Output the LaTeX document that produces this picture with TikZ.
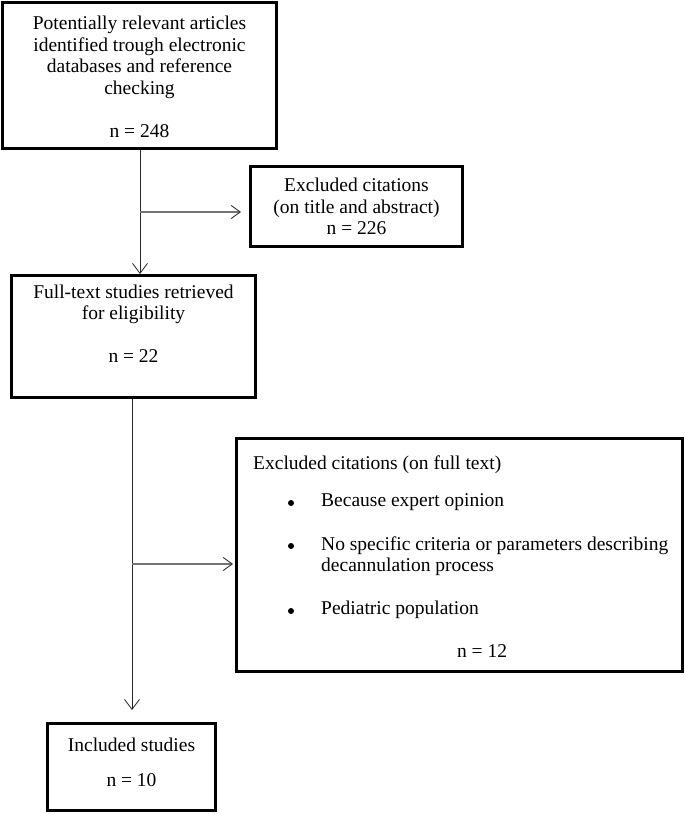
\documentclass[tikz,border=0pt]{standalone}
\usepackage{fontspec}
\setmainfont{Liberation Serif}
\usetikzlibrary{arrows.meta}
\begin{document}
\begin{tikzpicture}[x=1pt,y=-1pt,
  box/.style={draw, line width=3pt, inner sep=0pt, rectangle},
  txt/.style={inner sep=0pt, font=\fontsize{19.5}{21.5}\selectfont, align=center},
  ltxt/.style={inner sep=0pt, font=\fontsize{19.5}{21.5}\selectfont, align=left, anchor=west},
  flow/.style={line width=0.8pt, black!85, -{Straight Barb[length=10pt,width=15pt,line width=0.8pt]}},
  side/.style={line width=1.4pt, black!55, -{Straight Barb[length=9pt,width=13pt,line width=0.9pt,black!80]}},
  dot/.style={circle, fill=black, inner sep=0pt, minimum size=6pt}
]
\useasboundingbox (0,0) rectangle (685,814);

% boxes
\node[box, minimum width=274pt, minimum height=146pt] (b1) at (139.5,75.5) {};
\node[box, minimum width=212pt, minimum height=80pt] (e1) at (356.5,206.5) {};
\node[box, minimum width=244pt, minimum height=122pt] (b2) at (133.5,336.5) {};
\node[box, minimum width=446pt, minimum height=233pt] (e2) at (459.5,555) {};
\node[box, minimum width=168pt, minimum height=87pt] (b3) at (131.5,767) {};

% texts
\node[txt] (t1) at (139.5,77) {Potentially relevant articles\\identified trough electronic\\databases and reference\\checking\\[21.5pt]n = 248};
\node[txt] (te1) at (356.5,206.5) {Excluded citations\\(on title and abstract)\\n = 226};
\node[txt] (t2) at (133.5,323.5) {Full-text studies retrieved\\for eligibility\\[21.5pt]n = 22};
\node[txt] (t3) at (131.5,762.5) {Included studies\\[13pt]n = 10};

\node[ltxt] (te2) at (253,465) {Excluded citations (on full text)};
\node[dot] (d1) at (291,503) {};
\node[dot] (d2) at (291,546) {};
\node[dot] (d3) at (291,611) {};
\node[ltxt] (i1) at (321,502) {Because expert opinion};
\node[ltxt] (i2) at (321,556) {No specific criteria or parameters describing\\decannulation process};
\node[ltxt] (i3) at (321,610) {Pediatric population};
\node[txt] (n12) at (482,651) {n = 12};

% connectors
\coordinate (x1) at (140,0);
\coordinate (x2) at (132,0);
\coordinate (j1) at (140,212);
\coordinate (j2) at (132,564);
\draw[flow] (b1.south -| x1) -- (b2.north -| x1);
\draw[side, shorten >=8pt] (j1) -- (j1 -| e1.west);
\draw[flow, shorten >=12pt] (b2.south -| x2) -- (b3.north -| x2);
\draw[side, shorten >=2pt] (j2) -- (j2 -| e2.west);
\end{tikzpicture}
\end{document}
